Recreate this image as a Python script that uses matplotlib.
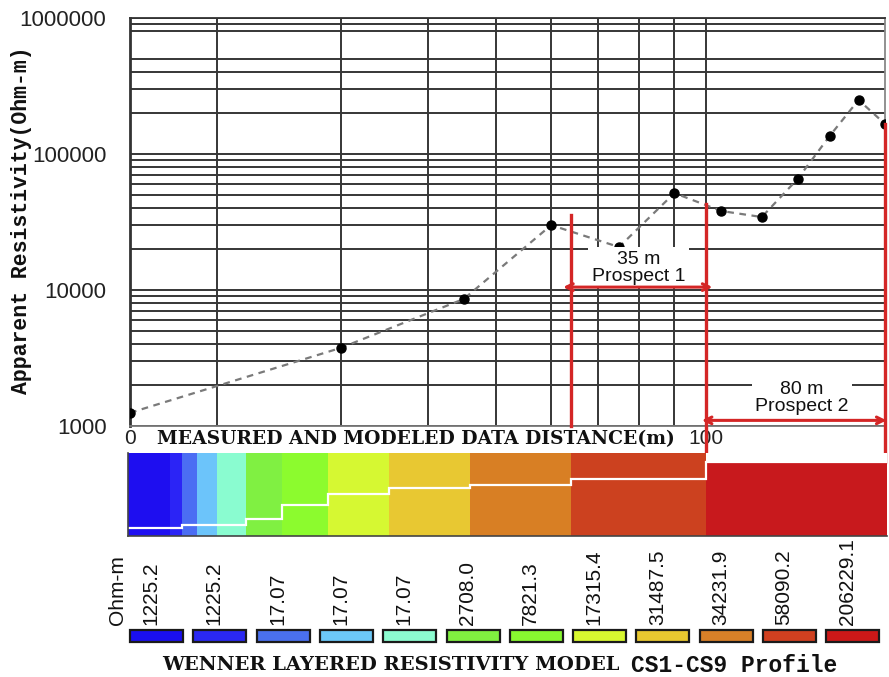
import numpy as np
import matplotlib
matplotlib.use("Agg")
import matplotlib.pyplot as plt
from matplotlib.patches import Rectangle
from matplotlib.ticker import NullFormatter

plt.rcParams['font.family'] = ['Liberation Sans', 'DejaVu Sans']

# ---------------- data ----------------
distance = [15, 30, 45, 60, 75, 90, 105, 120, 135, 150, 165, 180]
app_res = [1250, 3750, 8590, 30000, 20700, 51600, 38100, 34400, 65500, 135500, 249600, 166400]

x_grid = [20, 30, 40, 50, 60, 70, 80, 90, 100]
y_major = [1e3, 1e4, 1e5, 1e6]
y_major_labels = ['1000', '10000', '100000', '1000000']
y_minor = [2e3, 3e3, 4e3, 5e3, 6e3, 7e3, 8e3, 9e3,
           2e4, 3e4, 4e4, 5e4, 6e4, 7e4, 8e4, 9e4,
           2e5, 3e5, 4e5, 5e5, 8e5, 9e5]
x_tick_pos = [15, 100]
x_tick_labels = ['0', '100']

# prospects
p1_start, p1_end, p1_level = 64, 100, 10500
p2_start, p2_end, p2_level = 100, 180, 1100
p1_text = '35 m\nProspect 1'
p2_text = '80 m\nProspect 2'
p1_text_pos = (80, 14600)
p2_text_pos = (137, 1620)
red_line_x = [64, 100, 180]
red_line_tops = [35600, 42900, 166400]
red_line_bottoms = [1000, 644, 543]

# layered model bar
model_bounds = [14.9, 17.1, 17.8, 18.7, 20, 22, 24.7, 28.8, 35.2, 46, 64, 100, 181.2]
model_top = [0, 0, 0, 0, 0, 0, 0, 0, 0, 0, 0, 0.11]
model_colors = ['#1e0ef0', '#2b24f6', '#4b6df3', '#6cc4fa', '#8afcd0', '#80f042',
                '#8cfb2e', '#d6f832', '#e8c832', '#d87f24', '#cc411f', '#c8191d']
layer_edges = [14.9, 17.8, 22, 24.7, 28.8, 35.2, 46, 64, 100, 181.2]
layer_depth = [0.90, 0.87, 0.80, 0.63, 0.49, 0.42, 0.38, 0.31, 0.11]

legend_labels = ['1225.2', '1225.2', '17.07', '17.07', '17.07', '2708.0', '7821.3',
                 '17315.4', '31487.5', '34231.9', '58090.2', '206229.1']
legend_colors = ['#1a0ff0', '#2a28f2', '#4a70ee', '#6cc8f8', '#8cfcd0', '#80f040',
                 '#88f830', '#d8f830', '#e8c830', '#d88028', '#d04020', '#cc1818']

RED = '#d42626'
W, H = 889, 677


def rect(l, t, r, b):
    return [l / W, 1 - b / H, (r - l) / W, (b - t) / H]


fig = plt.figure(figsize=(W / 100, H / 100), dpi=100)

# ---------------- main chart ----------------
ax = fig.add_axes(rect(130, 18, 885, 426))
ax.set_xscale('log')
ax.set_yscale('log')
ax.set_xlim(15, 180)
ax.set_ylim(1e3, 1e6)
ax.set_xticks(x_tick_pos)
ax.set_xticklabels(x_tick_labels)
ax.set_xticks(x_grid, minor=True)
ax.set_yticks(y_major)
ax.set_yticklabels(y_major_labels)
ax.set_yticks(y_minor, minor=True)
ax.xaxis.set_minor_formatter(NullFormatter())
ax.yaxis.set_minor_formatter(NullFormatter())
ax.tick_params(which='both', length=0, colors='#222222')
ax.tick_params(axis='y', pad=17, labelsize=16)
ax.tick_params(axis='x', pad=2, labelsize=15)
ax.grid(which='both', color='#363636', lw=1.4)
ax.set_axisbelow(True)
for s in ax.spines.values():
    s.set_color('#333333')
    s.set_linewidth(1.3)
ax.spines['left'].set_linewidth(2)
ax.spines['right'].set_color('#888888')
ax.spines['bottom'].set_color('#777777')

ax.plot(distance, app_res, ls=(0, (3, 2.5)), color='#7a7a7a', lw=1.6,
        marker='o', mfc='black', mec='black', ms=6.5, zorder=3)

for xv, yt, yb in zip(red_line_x, red_line_tops, red_line_bottoms):
    ax.plot([xv, xv], [yt, yb], color=RED, lw=2.4, clip_on=False, zorder=6)

ax.annotate('', xy=(p1_start * 0.975, p1_level), xytext=(p1_end * 1.02, p1_level),
            arrowprops=dict(arrowstyle='<->', color=RED, lw=2.2, shrinkA=0, shrinkB=0,
                            mutation_scale=12), annotation_clip=False, zorder=6)
ax.annotate('', xy=(p2_start * 0.985, p2_level), xytext=(p2_end * 1.005, p2_level),
            arrowprops=dict(arrowstyle='<->', color=RED, lw=2.2, shrinkA=0, shrinkB=0,
                            mutation_scale=12), annotation_clip=False, zorder=6)

for txt, pos in [(p1_text, p1_text_pos), (p2_text, p2_text_pos)]:
    ax.text(pos[0], pos[1], txt, ha='center', va='center', fontsize=14,
            linespacing=1.0, color='#111111', zorder=5,
            bbox=dict(fc='white', ec='none', pad=2.5))

# ---------------- model bar ----------------
axm = fig.add_axes(rect(128, 453, 887, 536))
axm.set_xscale('log')
axm.set_xlim(model_bounds[0], model_bounds[-1])
axm.set_ylim(1, 0)
lefts = np.array(model_bounds[:-1])
widths = np.diff(model_bounds)
tops = np.array(model_top)
axm.bar(lefts, 1 - tops, width=widths, bottom=tops, align='edge',
        color=model_colors, lw=0)
axm.stairs(layer_depth, layer_edges, baseline=None, color='white', lw=1.6)
axm.set_xticks([])
axm.set_yticks([])
axm.minorticks_off()
for s in axm.spines.values():
    s.set_color('#444444')
    s.set_linewidth(1.2)
axm.spines['top'].set_visible(False)
axm.spines['right'].set_visible(False)

# ---------------- legend ----------------
axl = fig.add_axes([0, 0, 1, 1], zorder=-1)
axl.set_xlim(0, W)
axl.set_ylim(H, 0)
axl.axis('off')
step = 63.3
for i, (c, lab) in enumerate(zip(legend_colors, legend_labels)):
    x0 = 130 + i * step
    axl.add_patch(Rectangle((x0, 630), 53, 12, fc=c, ec='#1a1a1a', lw=1.6))
    axl.text(x0 + 21, 625, lab, rotation=90, ha='center', va='bottom',
             fontsize=15, color='#111111')
axl.text(117, 625, 'Ohm-m', rotation=90, ha='center', va='bottom',
         fontsize=15, color='#111111')

# ---------------- texts ----------------
fig.text(22 / W, 1 - 220 / H, 'Apparent Resistivity(Ohm-m)', rotation=90,
         ha='center', va='center', family='Liberation Mono', weight='bold',
         fontsize=15.5, color='#111111')
fig.text(416 / W, 1 - 439 / H, 'MEASURED AND MODELED DATA DISTANCE(m)',
         ha='center', va='center', family='DejaVu Serif', weight='bold',
         fontsize=13.5, color='#111111')
fig.text(391 / W, 1 - 665 / H, 'WENNER LAYERED RESISTIVITY MODEL',
         ha='center', va='center', family='DejaVu Serif', weight='bold',
         fontsize=14, color='#111111')
fig.text(734 / W, 1 - 665 / H, 'CS1-CS9 Profile',
         ha='center', va='center', family='Liberation Mono', weight='bold',
         fontsize=16.5, color='#111111')

fig.savefig('out.png', dpi=100)
